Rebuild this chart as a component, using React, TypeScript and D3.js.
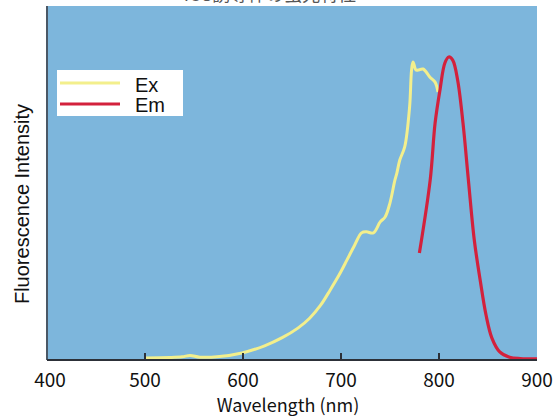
import React from "react";
import * as d3 from "d3";

const exWavelength = [500, 525, 538, 546, 556, 576, 599, 622, 640, 656, 668, 679, 689, 698, 706, 714, 721, 726, 733, 740, 745, 750, 755, 757, 760, 765, 770, 772, 773.5, 776.5, 778.6, 783.7, 790.8, 796, 799];
const exIntensity = [0.6, 0.7, 0.9, 1.3, 0.8, 1.0, 2.0, 4.0, 6.3, 9.0, 11.8, 15.4, 19.8, 24.0, 28.2, 32.5, 35.9, 36.2, 35.9, 39.0, 40.4, 44.4, 50.8, 52.8, 56.5, 60.2, 71.5, 81.9, 84.2, 81.9, 81.9, 82.2, 79.9, 78.5, 75.7];

const emWavelength = [780, 791, 796, 801, 806, 810, 814, 819, 824.5, 830, 836, 842, 848, 854, 862, 872, 883, 900];
const emIntensity = [30.2, 50.8, 66.9, 76.3, 83.9, 85.6, 84.7, 79.1, 66.9, 50.8, 33.9, 22.6, 12.7, 6.2, 2.3, 0.8, 0.4, 0.3];

const xTicks = [400, 500, 600, 700, 800, 900];
const seriesNames = ["Ex", "Em"];

export default function App() {
  const W = 560, H = 418;
  const left = 47, right = 537, top = 6, bottom = 360;
  const x = d3.scaleLinear().domain([400, 900]).range([left, right]);
  const y = d3.scaleLinear().domain([0, 100]).range([bottom, top]);
  const line = d3.line<[number, number]>().x(d => x(d[0])).y(d => y(d[1])).curve(d3.curveCatmullRom.alpha(0.5));
  const exData: [number, number][] = exWavelength.map((w, i) => [w, exIntensity[i]]);
  const emData: [number, number][] = emWavelength.map((w, i) => [w, emIntensity[i]]);
  const yellow = "#f3ef8c";
  const red = "#d3213c";
  const jp = "'Noto Sans CJK JP', 'Noto Sans', sans-serif";
  const sans = "'Liberation Sans', Arial, sans-serif";
  return (
    <svg width={W} height={H} style={{ position: "absolute", left: 0, top: 0, background: "#fff" }}>
      <text x={270} y={1} textAnchor="middle" fontFamily={jp} fontSize={18} fill="#555">ICG誘導体の蛍光特性</text>
      <rect x={left} y={top} width={right - left} height={bottom - top} fill="#7db6dc" />
      <path d={line(exData) || ""} fill="none" stroke={yellow} strokeWidth={3} strokeLinejoin="round" />
      <path d={line(emData) || ""} fill="none" stroke={red} strokeWidth={3.2} strokeLinejoin="round" />
      <line x1={left} x2={left} y1={top} y2={bottom} stroke="#4a5866" strokeWidth={2} />
      <line x1={left} x2={right} y1={bottom} y2={bottom} stroke="#2c3038" strokeWidth={2} />
      {xTicks.map(t => (
        <g key={t}>
          {t > 400 && t < 900 && <line x1={x(t)} x2={x(t)} y1={bottom} y2={bottom - 7} stroke="#2c3038" strokeWidth={2} />}
          <text x={x(t) + (t === 400 ? 3 : 0)} y={387} textAnchor="middle" fontFamily={jp} fontSize={19} fill="#111">{t}</text>
        </g>
      ))}
      <text x={288} y={412} textAnchor="middle" fontFamily={jp} fontSize={18} fill="#111">Wavelength (nm)</text>
      <text transform="translate(29,204) rotate(-90)" textAnchor="middle" fontFamily={sans} fontSize={20} fill="#111">Fluorescence Intensity</text>
      <rect x={57} y={70} width={126} height={46} fill="#fff" />
      {seriesNames.map((n, i) => (
        <g key={n}>
          <line x1={60} x2={120} y1={83 + i * 21} y2={83 + i * 21} stroke={i === 0 ? yellow : red} strokeWidth={3} />
          <text x={135} y={92 + i * 20} fontFamily={sans} fontSize={20} fill="#111">{n}</text>
        </g>
      ))}
    </svg>
  );
}
